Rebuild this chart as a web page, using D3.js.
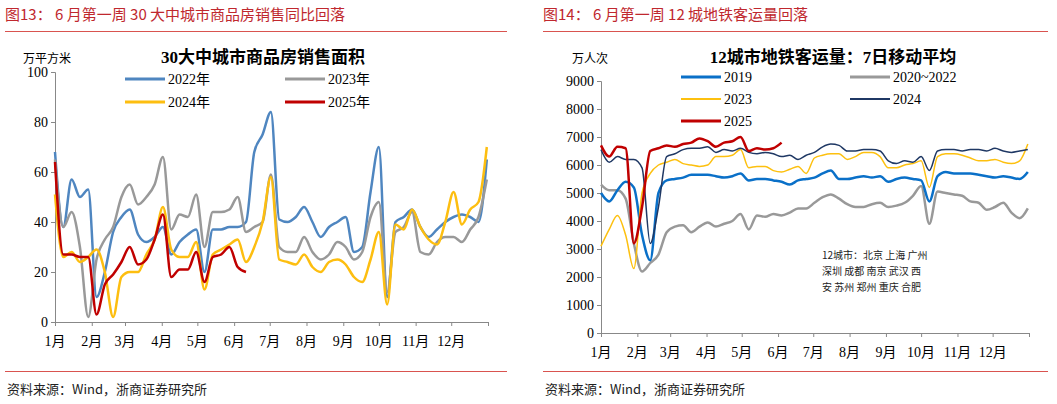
<!DOCTYPE html><html><head><meta charset="utf-8">
<script src="https://cdn.jsdelivr.net/npm/d3@7"></script>
<style>body{margin:0;background:#fff}svg{display:block}</style></head><body>
<svg id="c" width="1057" height="404"></svg>
<script>
const months=["1月","2月","3月","4月","5月","6月","7月","8月","9月","10月","11月","12月"];
const monthStart=[0,31,59,90,120,151,181,212,243,273,304,334,365];
// Left chart: weekly values (万平方米)
const s2022=[68,38,57,50,53,10,20,36,42,45,35,32,34,38,27,32,35,37,20,37,37,38,38,40,68,75,84,41,40,42,46,40,34,38,40,42,28,30,52,70,10,40,42,45,38,34,37,40,42,43,42,40,65];
const s2023=[65,38,44,30,2,25,33,38,50,55,47,50,55,66,37,43,42,51,30,44,44,45,50,36,38,40,59,30,28,28,34,28,25,27,32,30,25,28,42,48,12,36,38,44,28,27,32,34,34,32,37,42,57];
const s2024=[51,26,28,24,26,29,20,2,18,20,20,27,33,46,29,26,26,32,13,27,29,31,33,24,30,40,58,25,24,23,27,22,20,24,25,23,18,16,25,36,7,39,37,45,38,33,31,40,52,39,45,48,70];
const s2025=[64,27,27,26,26,3,15,19,24,30,23,25,33,43,18,21,21,28,16,26,27,30,22,20];
// Right chart: weekly 7-day MA (万人次)
const m2019=[5000,4700,5100,5400,5200,3500,2600,5000,5450,5500,5550,5650,5650,5650,5600,5550,5600,5700,5450,5500,5500,5450,5400,5300,5450,5500,5550,5700,5800,5500,5500,5550,5600,5550,5600,5400,5500,5550,5500,5450,4700,5600,5750,5700,5700,5700,5650,5600,5550,5600,5550,5500,5750];
const m2020=[5300,5100,5100,4800,3200,2200,2500,2800,3600,3800,3850,3600,3800,3950,3800,3900,4000,4250,3700,4200,4150,4250,4200,4300,4450,4450,4650,4850,4950,4800,4600,4500,4500,4600,4650,4500,4550,4650,4900,5250,3900,5050,5000,4950,4900,4700,4650,4400,4500,4650,4300,4100,4450];
const m2023=[3100,3700,4200,3500,2300,5000,5700,6000,6100,6200,6050,6000,5950,6000,6300,6300,6350,6550,5900,5950,5950,5800,5750,5850,5950,5700,6250,6350,6400,6400,6200,6300,6450,6450,6300,5900,5900,6000,6050,6150,5200,6300,6400,6400,6350,6250,6150,6150,6200,6100,6050,6150,6750];
const m2024=[6550,6100,6300,6200,6200,5900,3200,4500,6300,6400,6550,6600,6600,6650,6450,6550,6500,6600,6450,6400,6450,6400,6300,6350,6200,6350,6450,6650,6750,6700,6500,6500,6550,6550,6500,6150,6050,6150,6100,6300,5800,6500,6550,6550,6500,6550,6550,6500,6600,6500,6450,6500,6550];
const m2025=[6700,6300,6650,6600,3200,4500,6500,6600,6700,6650,6750,6800,6950,6850,6650,6800,6850,7000,6500,6600,6550,6600,6800];
const leftTicks=[0,20,40,60,80,100];
const rightTicks=[0,1000,2000,3000,4000,5000,6000,7000,8000,9000];

const svg=d3.select("#c");
const serif="'Liberation Serif','Noto Sans CJK SC',serif";
const cjk="'Noto Sans CJK SC',sans-serif";
const red="#c0282e";

function frame(x0,x1,title){
  svg.append("text").attr("x",x0).attr("y",20).attr("fill",red).attr("font-size",15).attr("font-family",cjk).text(title);
  svg.append("line").attr("x1",x0).attr("x2",x1).attr("y1",31.5).attr("y2",31.5).attr("stroke","#d9534f").attr("stroke-width",1.2);
  svg.append("line").attr("x1",x0).attr("x2",x1).attr("y1",371.5).attr("y2",371.5).attr("stroke","#d9534f").attr("stroke-width",1.2);
  svg.append("text").attr("x",x0+2).attr("y",394).attr("font-size",13).attr("font-family",cjk).attr("fill","#222").text("资料来源：Wind，浙商证券研究所");
}
function chart(o){
  const x=d3.scaleLinear().domain([0,365]).range([o.x0,o.x1]);
  const y=d3.scaleLinear().domain(o.dom).range([o.y0,o.y1]);
  const g=svg.append("g");
  g.append("g").attr("transform",`translate(${o.x0},0)`).call(d3.axisLeft(y).tickValues(o.ticks).tickSize(4).tickFormat(d3.format("d")))
   .call(a=>{a.selectAll("text").attr("font-family",serif).attr("font-size",o.tfs).attr("fill","#000");a.selectAll("line,path").attr("stroke","#888");});
  g.append("g").attr("transform",`translate(0,${o.y0})`).call(d3.axisBottom(x).tickValues(monthStart).tickSize(4).tickFormat(()=> ""))
   .call(a=>a.selectAll("line,path").attr("stroke","#888"));
  g.selectAll(".ml").data(months).join("text").attr("x",(d,i)=>x(monthStart[i])).attr("y",o.y0+24).attr("text-anchor","middle")
   .attr("font-family",serif).attr("font-size",14).text(d=>d);
  const line=d3.line().x((d,i)=>x(i*7)).y(d=>y(d)).curve(d3.curveMonotoneX);
  o.series.forEach(s=>g.append("path").datum(s.v).attr("d",line).attr("fill","none").attr("stroke",s.c).attr("stroke-width",s.w).attr("stroke-linejoin","round"));
  o.series.forEach(s=>{
    g.append("line").attr("x1",s.lx).attr("x2",s.lx+40).attr("y1",s.ly).attr("y2",s.ly).attr("stroke",s.c).attr("stroke-width",s.w+0.5);
    g.append("text").attr("x",s.lx+43).attr("y",s.ly+5).attr("font-family",serif).attr("font-size",14).text(s.n);
  });
  svg.append("text").attr("x",o.tx).attr("y",63).attr("text-anchor","middle").attr("font-weight","bold").attr("font-size",17).attr("font-family",serif).text(o.title);
  svg.append("text").attr("x",o.ux).attr("y",63).attr("font-size",12).attr("font-family",cjk).text(o.unit);
}
frame(5,507,"图13：  6 月第一周 30 大中城市商品房销售同比回落");
frame(543,1048,"图14：  6 月第一周 12 城地铁客运量回落");
chart({x0:55,x1:488,y0:322,y1:72,dom:[0,100],ticks:leftTicks,tfs:14,tx:263,ux:23,unit:"万平方米",title:"30大中城市商品房销售面积",
  series:[{v:s2022,c:"#4f86c0",w:2.5,n:"2022年",lx:125,ly:79},{v:s2023,c:"#999",w:2.5,n:"2023年",lx:285,ly:79},
          {v:s2024,c:"#fdbe10",w:2.5,n:"2024年",lx:125,ly:102},{v:s2025,c:"#c00000",w:2.5,n:"2025年",lx:285,ly:102}]});
chart({x0:601,x1:1029,y0:333,y1:81,dom:[0,9000],ticks:rightTicks,tfs:14,tx:833,ux:572,unit:"万人次",title:"12城市地铁客运量：7日移动平均",
  series:[{v:m2020,c:"#999",w:2.5,n:"2020~2022",lx:850,ly:77},{v:m2019,c:"#0a70c8",w:2.5,n:"2019",lx:681,ly:77},
          {v:m2023,c:"#fdc00f",w:1.5,n:"2023",lx:681,ly:99},{v:m2024,c:"#1f3864",w:1.5,n:"2024",lx:850,ly:99},
          {v:m2025,c:"#c00000",w:2.5,n:"2025",lx:681,ly:121}]});
["12城市：北京 上海 广州","深圳 成都 南京 武汉 西","安 苏州 郑州 重庆 合肥"].forEach((t,i)=>
  svg.append("text").attr("x",822).attr("y",259+i*16).attr("font-size",10).attr("font-family",cjk).attr("fill","#222").text(t));
</script></body></html>
